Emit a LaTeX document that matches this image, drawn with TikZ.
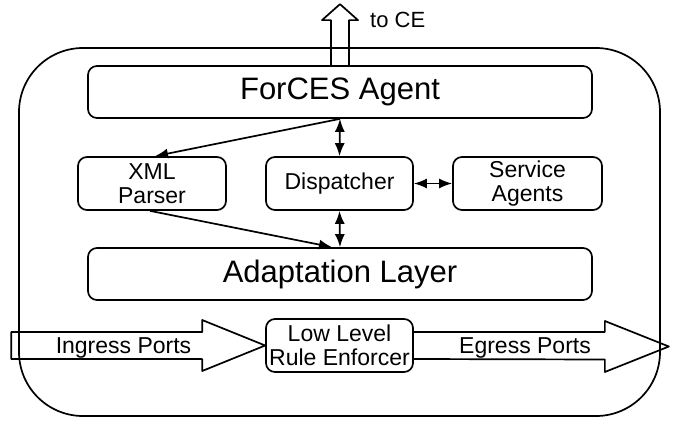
\documentclass[tikz,border=0pt]{standalone}
\usepackage{fontspec}
\setmainfont{Liberation Sans}
\usetikzlibrary{arrows.meta,calc}
\begin{document}
\begin{tikzpicture}[x=1pt,y=-1pt,line width=1.7pt,line join=round,
  box/.style={draw,rounded corners=9pt,inner sep=0pt,align=center},
  bigtext/.style={font=\fontsize{31}{36}\selectfont},
  midtext/.style={font=\fontsize{23}{24}\selectfont},
  onehead/.style={-{Latex[length=13pt,width=10pt]}},
  twohead/.style={{Latex[length=13pt,width=10pt]}-{Latex[length=13pt,width=10pt]}},
  blockarrow/.style={draw,line width=1.7pt}]
\useasboundingbox (0,0) rectangle (676,420);
% outer frame
\node[draw,rounded corners=64pt,minimum width=641pt,minimum height=368pt,inner sep=0pt] (frame) at (339.5,232) {};
% boxes
\node[box,bigtext,minimum width=504pt,minimum height=52pt] (forces) at (340,92) {ForCES Agent};
\node[box,midtext,minimum width=148pt,minimum height=53pt] (xml) at (152,183.5) {XML\\Parser};
\node[box,midtext,minimum width=147pt,minimum height=53pt] (disp) at (339.5,183.5) {Dispatcher};
\node[box,midtext,minimum width=149pt,minimum height=53pt] (serv) at (527.5,183.5) {Service\\Agents};
\node[box,bigtext,minimum width=504pt,minimum height=52pt] (adapt) at (340,274) {Adaptation Layer};
\node[box,midtext,minimum width=147pt,minimum height=53pt] (llre) at (339.5,345.5) {Low Level\\Rule Enforcer};
% connectors
\draw[onehead] (forces.south) -- ([xshift=3pt]xml.north);
\draw[twohead] (forces.south) -- (disp.north);
\draw[twohead] (disp.east) -- (serv.west);
\draw[twohead] (disp.south) -- (adapt.north);
\draw[onehead] ([xshift=-2pt]xml.south) -- ([xshift=-8pt]adapt.north);
% up arrow to CE
\draw[blockarrow] ([xshift=-9pt]forces.north) -- ++(0,-45) -- ++(-9,0) -- ++(18,-16) -- ++(18,16) -- ++(-9,0) -- ([xshift=9pt]forces.north);
\node[font=\fontsize{22}{24}\selectfont,anchor=west] (tace) at (366,20) {to CE};
% ingress arrow
\draw[blockarrow] (llre.west) -- ++(-63,25.5) -- ++(0,-12) -- ++(-191,0) -- ++(0,-27) -- ++(191,0) -- ++(0,-12) -- cycle;
\node[midtext] (ing) at (123.5,348) {Ingress Ports};
% egress arrow
\draw[blockarrow] ([yshift=13.5pt]llre.east) -- ++(191,0) -- ++(0,-11) -- ++(64,25.5) -- ++(-64,25.5) -- ++(0,-12.5) -- ([yshift=-13.5pt]llre.east);
\node[midtext] (egr) at (525,348) {Egress Ports};
\end{tikzpicture}
\end{document}
